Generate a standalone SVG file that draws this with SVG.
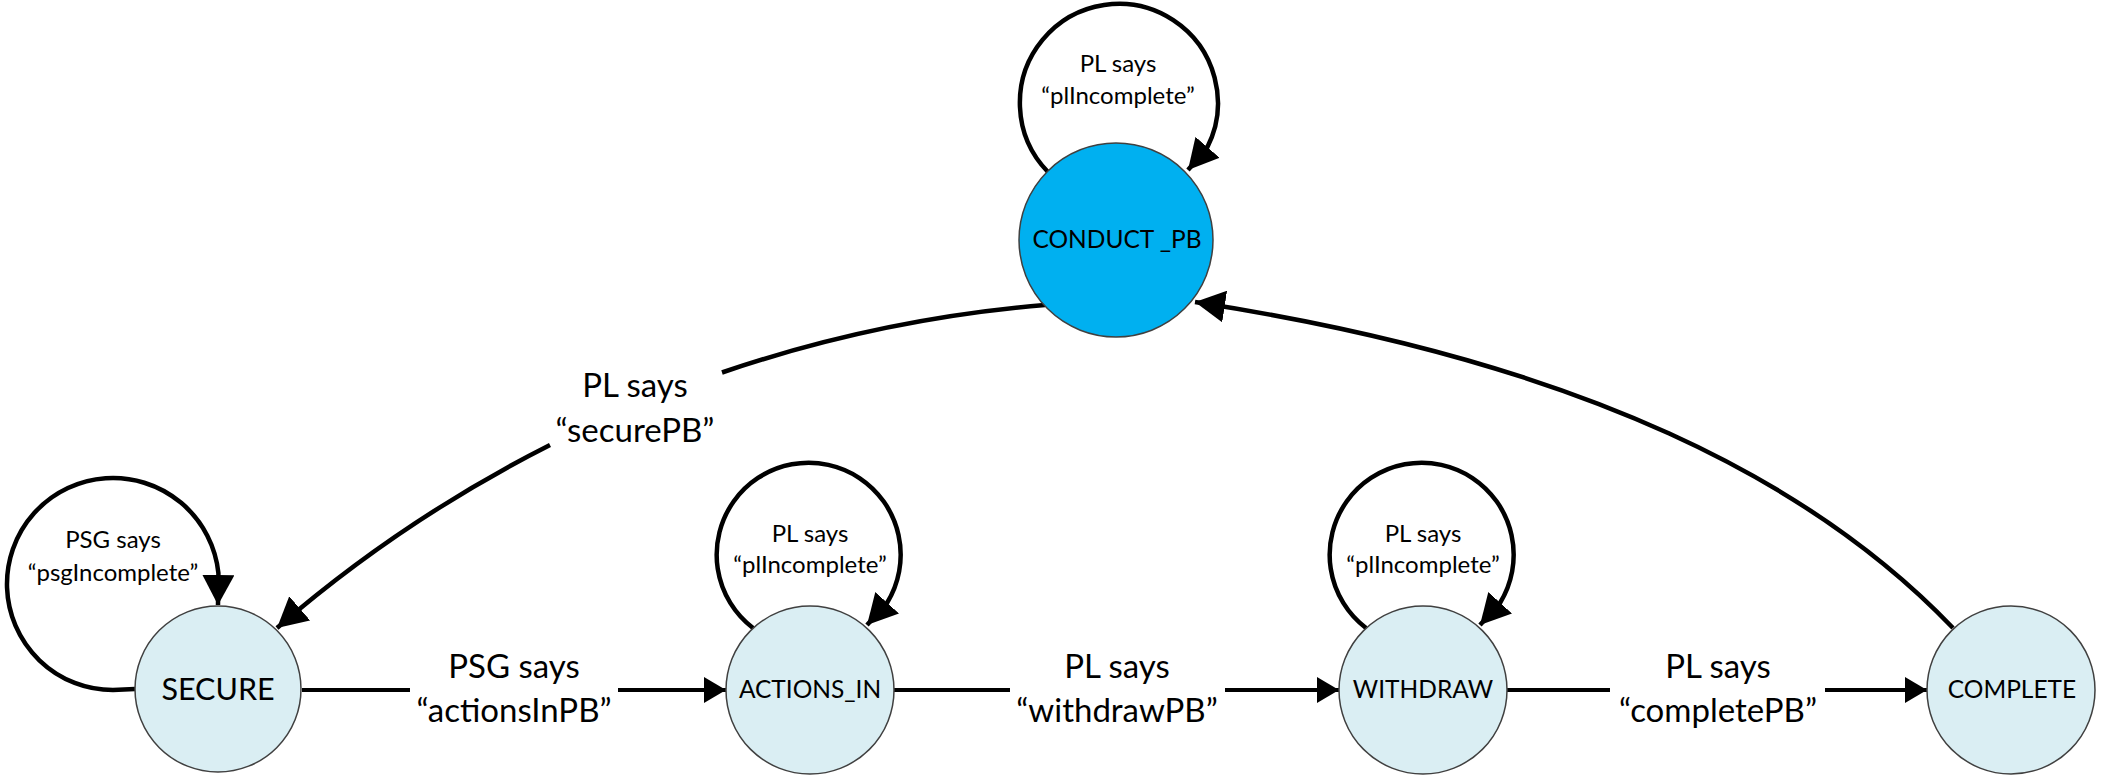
<svg xmlns="http://www.w3.org/2000/svg" width="2103" height="777" viewBox="0 0 2103 777">
  <defs>
    <marker id="arrowBig" markerUnits="userSpaceOnUse" markerWidth="32" markerHeight="32" refX="30" refY="16" orient="auto" viewBox="0 0 32 32">
      <path d="M0,0 L30,16 L0,32 z" fill="#000"/>
    </marker>
    <marker id="arrowSmall" markerUnits="userSpaceOnUse" markerWidth="24" markerHeight="26" refX="22" refY="13" orient="auto" viewBox="0 0 24 26">
      <path d="M0,0 L22,13 L0,26 z" fill="#000"/>
    </marker>
  </defs>
  <style>
    .node { fill: #DAEEF3; stroke: #404040; stroke-width: 1.5; }
    .nodeBlue { fill: #00B0F0; stroke: #404040; stroke-width: 1.5; }
    .conn { fill: none; stroke: #000; stroke-width: 4.5; }
    .line { fill: none; stroke: #000; stroke-width: 4; }
    text { font-family: Lato, "Open Sans", "Liberation Sans", sans-serif; fill: #000; text-anchor: middle; }
    .nlabel { font-size: 24.5px; }
    .nlabelBig { font-size: 30.5px; }
    .elabel { font-size: 33px; }
    .llabel { font-size: 24px; }
  </style>
  <rect width="2103" height="777" fill="#fff"/>

  <g id="connectors">
    <!-- self loops -->
    <path class="conn" d="M135,689 L113,690 A106,106 0 1 1 218.4,573 L218,605" marker-end="url(#arrowBig)"/>
    <path class="conn" d="M753,628 A92,92 0 1 1 887,603 L867,625" marker-end="url(#arrowBig)"/>
    <path class="conn" d="M1366,628 A92,92 0 1 1 1500,603 L1480,625" marker-end="url(#arrowBig)"/>
    <path class="conn" d="M1048,172 A99,99 0 1 1 1207,148 L1188,170" marker-end="url(#arrowBig)"/>
    <!-- straight edges -->
    <path class="line" d="M302,690 H410"/>
    <path class="line" d="M618,690 H726" marker-end="url(#arrowSmall)"/>
    <path class="line" d="M893,690 H1010"/>
    <path class="line" d="M1225,690 H1339" marker-end="url(#arrowSmall)"/>
    <path class="line" d="M1507,690 H1610"/>
    <path class="line" d="M1825,690 H1927" marker-end="url(#arrowSmall)"/>
    <!-- CONDUCT_PB -> SECURE -->
    <path class="conn" d="M1045,305 A1345.6,1345.6 0 0 0 722,372.5"/>
    <path class="conn" d="M550,445 A1345.6,1345.6 0 0 0 277,628" marker-end="url(#arrowBig)"/>
    <!-- COMPLETE -> CONDUCT_PB -->
    <path class="conn" d="M1953,628 C1815,484 1587,362 1195,302" marker-end="url(#arrowBig)"/>

    <!-- edge labels -->
    <text class="elabel" x="635" y="397">PL says</text>
    <text class="elabel" x="635" y="442">“securePB”</text>
    <text class="elabel" x="514" y="678">PSG says</text>
    <text class="elabel" x="514" y="722">“actionsInPB”</text>
    <text class="elabel" x="1117" y="678">PL says</text>
    <text class="elabel" x="1117" y="722">“withdrawPB”</text>
    <text class="elabel" x="1718" y="678">PL says</text>
    <text class="elabel" x="1718" y="722">“completePB”</text>
    <!-- loop labels -->
    <text class="llabel" x="113" y="548">PSG says</text>
    <text class="llabel" x="113" y="581">“psgIncomplete”</text>
    <text class="llabel" x="810" y="542">PL says</text>
    <text class="llabel" x="810" y="573">“plIncomplete”</text>
    <text class="llabel" x="1423" y="542">PL says</text>
    <text class="llabel" x="1423" y="573">“plIncomplete”</text>
    <text class="llabel" x="1118" y="72">PL says</text>
    <text class="llabel" x="1118" y="104">“plIncomplete”</text>
  </g>

  <g id="node-conduct-pb">
    <circle class="nodeBlue" cx="1116" cy="240" r="97"/>
    <text class="nlabel" x="1117" y="248">CONDUCT _PB</text>
  </g>
  <g id="node-secure">
    <circle class="node" cx="218" cy="689" r="83"/>
    <text class="nlabelBig" x="218" y="700">SECURE</text>
  </g>
  <g id="node-actions-in">
    <circle class="node" cx="810" cy="690" r="84"/>
    <text class="nlabel" x="810" y="698">ACTIONS_IN</text>
  </g>
  <g id="node-withdraw">
    <circle class="node" cx="1423" cy="690" r="84"/>
    <text class="nlabel" x="1423" y="698">WITHDRAW</text>
  </g>
  <g id="node-complete">
    <circle class="node" cx="2011" cy="690" r="84"/>
    <text class="nlabel" x="2012" y="698">COMPLETE</text>
  </g>
</svg>
